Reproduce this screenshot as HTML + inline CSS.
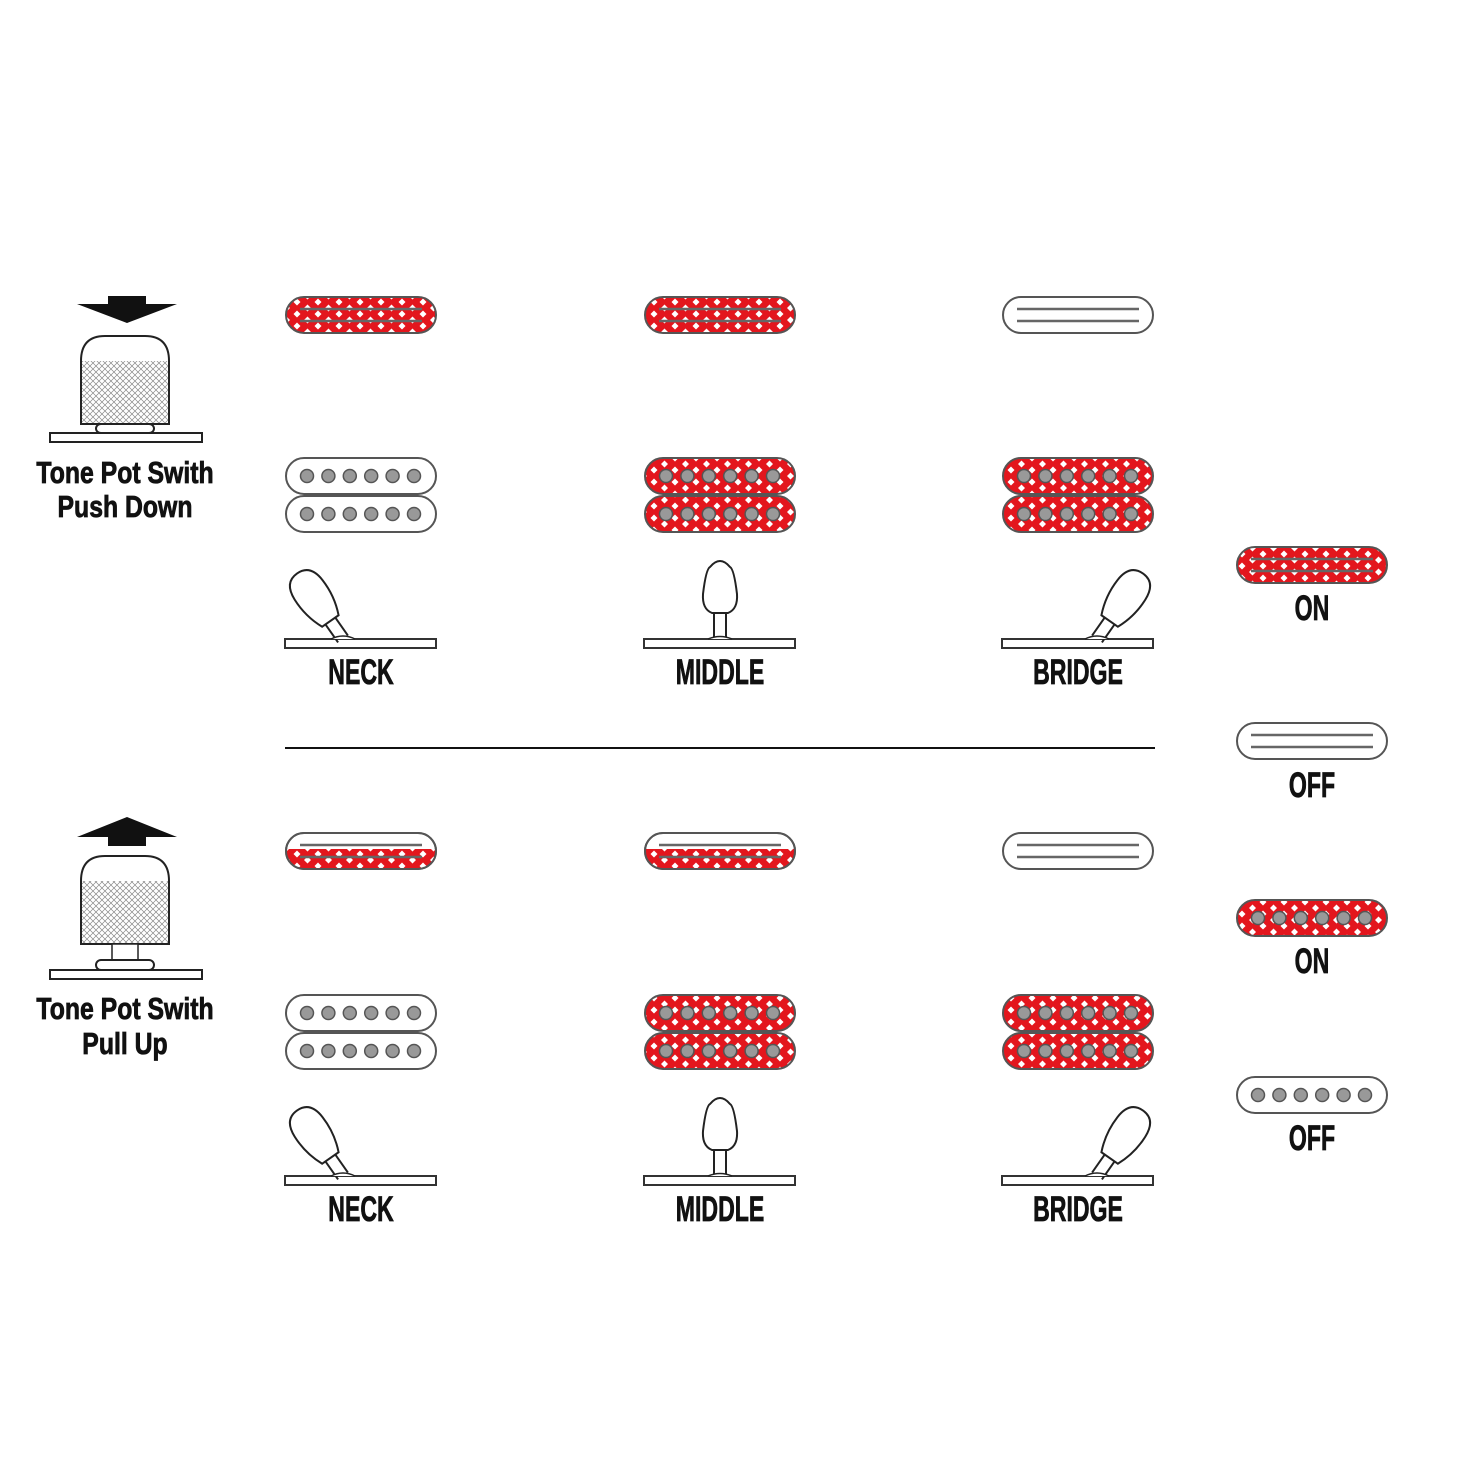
<!DOCTYPE html>
<html><head><meta charset="utf-8"><style>
html,body{margin:0;padding:0;background:#fff}
svg text{font-family:"Liberation Sans",sans-serif;font-weight:bold;fill:#111;stroke:#111;stroke-width:0.8;text-anchor:middle}
</style></head><body>
<svg id="s" width="1476" height="1476" viewBox="0 0 1476 1476" xmlns="http://www.w3.org/2000/svg">
<defs>
<pattern id="dm" width="21" height="12" patternUnits="userSpaceOnUse" x="3" y="2">
<rect width="21" height="12" fill="#e3161d"/>
<path d="M0,-3.5 L3.5,0 L0,3.5 L-3.5,0Z M21,-3.5 L24.5,0 L21,3.5 L17.5,0Z M0,8.5 L3.5,12 L0,15.5 L-3.5,12Z M21,8.5 L24.5,12 L21,15.5 L17.5,12Z M10.5,2.5 L14,6 L10.5,9.5 L7,6Z" fill="#fff"/>
</pattern>
<pattern id="mesh" width="6" height="6" patternUnits="userSpaceOnUse">
<rect width="6" height="6" fill="#fff"/>
<path d="M0,0 L6,6 M6,0 L0,6" stroke="#888" stroke-width="0.7"/>
</pattern>
</defs>
<g id="g"></g>
</svg>
<script>
let o='';
const R=(x,y)=>`<rect x="${x}" y="${y}" width="150" height="36" rx="18" fill="url(#dm)" stroke="#555" stroke-width="2"/>`;
const W=(x,y)=>`<rect x="${x}" y="${y}" width="150" height="36" rx="18" fill="#fff" stroke="#555" stroke-width="2"/>`;
function rails(x,y){return `<line x1="${x+14}" y1="${y+12}" x2="${x+136}" y2="${y+12}" stroke="#666" stroke-width="2.5"/><line x1="${x+14}" y1="${y+24}" x2="${x+136}" y2="${y+24}" stroke="#666" stroke-width="2.5"/>`;}
function rail(x,y,red){return (red?R(x,y):W(x,y))+rails(x,y);}
function half(x,y){let id='c'+x+'_'+y;return `<clipPath id="${id}"><rect x="${x}" y="${y}" width="150" height="36" rx="18"/></clipPath>`+W(x,y)+`<rect x="${x}" y="${y+16}" width="150" height="22" fill="url(#dm)" clip-path="url(#${id})"/><rect x="${x}" y="${y}" width="150" height="36" rx="18" fill="none" stroke="#555" stroke-width="2"/>`+rails(x,y);}
function poles(x,y){let s='';for(let i=0;i<6;i++)s+=`<circle cx="${x+21+i*21.4}" cy="${y+18}" r="6.5" fill="#999" stroke="#555" stroke-width="1.5"/>`;return s;}
function coil(x,y,red){return (red?R(x,y):W(x,y))+poles(x,y);}
function hum(x,y,red){return coil(x,y,red)+coil(x,y+38,red);}
function base(x,y){return `<rect x="${x}" y="${y}" width="151" height="9" fill="#fff" stroke="#333" stroke-width="2"/>`;}
function lever(px,py,ang){return `<g transform="translate(${px},${py}) rotate(${ang})"><path d="M-6,0 L-6,-22 M6,0 L6,-22" stroke="#222" stroke-width="2" fill="none"/><path d="M-10,-22 Q-18,-40 -17,-60 Q-16,-80 0,-80 Q16,-80 17,-60 Q18,-40 10,-22 Z" fill="#fff" stroke="#222" stroke-width="2"/></g><path d="M${px-12},${py} Q${px},${py-6} ${px+12},${py}" fill="#fff" stroke="#222" stroke-width="1.5"/>`;}
function mid(cx,py){return `<path d="M${cx-6},${py} L${cx-6},${py-26} M${cx+6},${py} L${cx+6},${py-26}" stroke="#222" stroke-width="2"/><path d="M${cx-8},${py-26} Q${cx-18},${py-30} ${cx-17},${py-45} Q${cx-14},${py-70} ${cx-10},${py-72} Q${cx},${py-84} ${cx+10},${py-72} Q${cx+14},${py-70} ${cx+17},${py-45} Q${cx+18},${py-30} ${cx+8},${py-26} Z" fill="#fff" stroke="#222" stroke-width="2"/><path d="M${cx-12},${py} Q${cx},${py-5} ${cx+12},${py}" fill="#fff" stroke="#222" stroke-width="1.5"/>`;}
function T(x,y,t,s,k){return `<g transform="translate(${x},${y}) scale(${k||0.66},1)"><text x="0" y="0" font-size="${s||35}">${t}</text></g>`;}
function knob(y0,up){let s='';
 if(!up) s+=`<rect x="108" y="${y0}" width="38" height="10" fill="#111"/><path d="M77,${y0+8} L177,${y0+8} L127,${y0+27} Z" fill="#111"/>`;
 else s+=`<path d="M77,${y0+20} L177,${y0+20} L127,${y0} Z" fill="#111"/><rect x="108" y="${y0+19}" width="38" height="10" fill="#111"/>`;
 return s;}
function body(y0,plateY,nutY){return `<path d="M81,${y0+88} L81,${y0+25} Q81,${y0} 105,${y0} L145,${y0} Q169,${y0} 169,${y0+25} L169,${y0+88} Z" fill="#fff" stroke="#222" stroke-width="2"/><rect x="82" y="${y0+25}" width="86" height="62" fill="url(#mesh)"/><path d="M81,${y0+88} L169,${y0+88}" stroke="#222" stroke-width="2"/><rect x="112" y="${y0+88}" width="26" height="${nutY-y0-88}" fill="#fff" stroke="#222" stroke-width="1.5"/><rect x="96" y="${nutY}" width="58" height="${plateY-nutY}" rx="5" fill="#fff" stroke="#222" stroke-width="2"/><rect x="50" y="${plateY}" width="152" height="9" fill="#fff" stroke="#222" stroke-width="2"/>`;}
o+=knob(296,false)+body(336,433,424);
o+=T(125,483,'Tone Pot Swith',31,0.8)+T(125,517,'Push Down',31,0.8);
o+=knob(817,true)+body(856,970,960);
o+=T(125,1019,'Tone Pot Swith',31,0.8)+T(125,1054,'Pull Up',31,0.8);
const cols=[286,645,1003];
o+=rail(286,297,true)+rail(645,297,true)+rail(1003,297,false);
o+=hum(286,458,false)+hum(645,458,true)+hum(1003,458,true);
o+=half(286,833)+half(645,833)+rail(1003,833,false);
o+=hum(286,995,false)+hum(645,995,true)+hum(1003,995,true);
[[639,672],[1176,1209]].forEach(([by,ly])=>{
 cols.forEach(c=>o+=base(c-1,by));
 o+=lever(343,by,-35)+mid(720,by)+lever(1097,by,35);
 o+=T(361,ly+12,'NECK')+T(720,ly+12,'MIDDLE')+T(1078,ly+12,'BRIDGE');
});
o+=`<line x1="285" y1="748" x2="1155" y2="748" stroke="#111" stroke-width="2"/>`;
o+=rail(1237,547,true)+T(1312,620,'ON');
o+=rail(1237,723,false)+T(1312,797,'OFF');
o+=coil(1237,900,true)+T(1312,973,'ON');
o+=coil(1237,1077,false)+T(1312,1150,'OFF');
document.getElementById('g').innerHTML=o;
</script>
</body></html>
